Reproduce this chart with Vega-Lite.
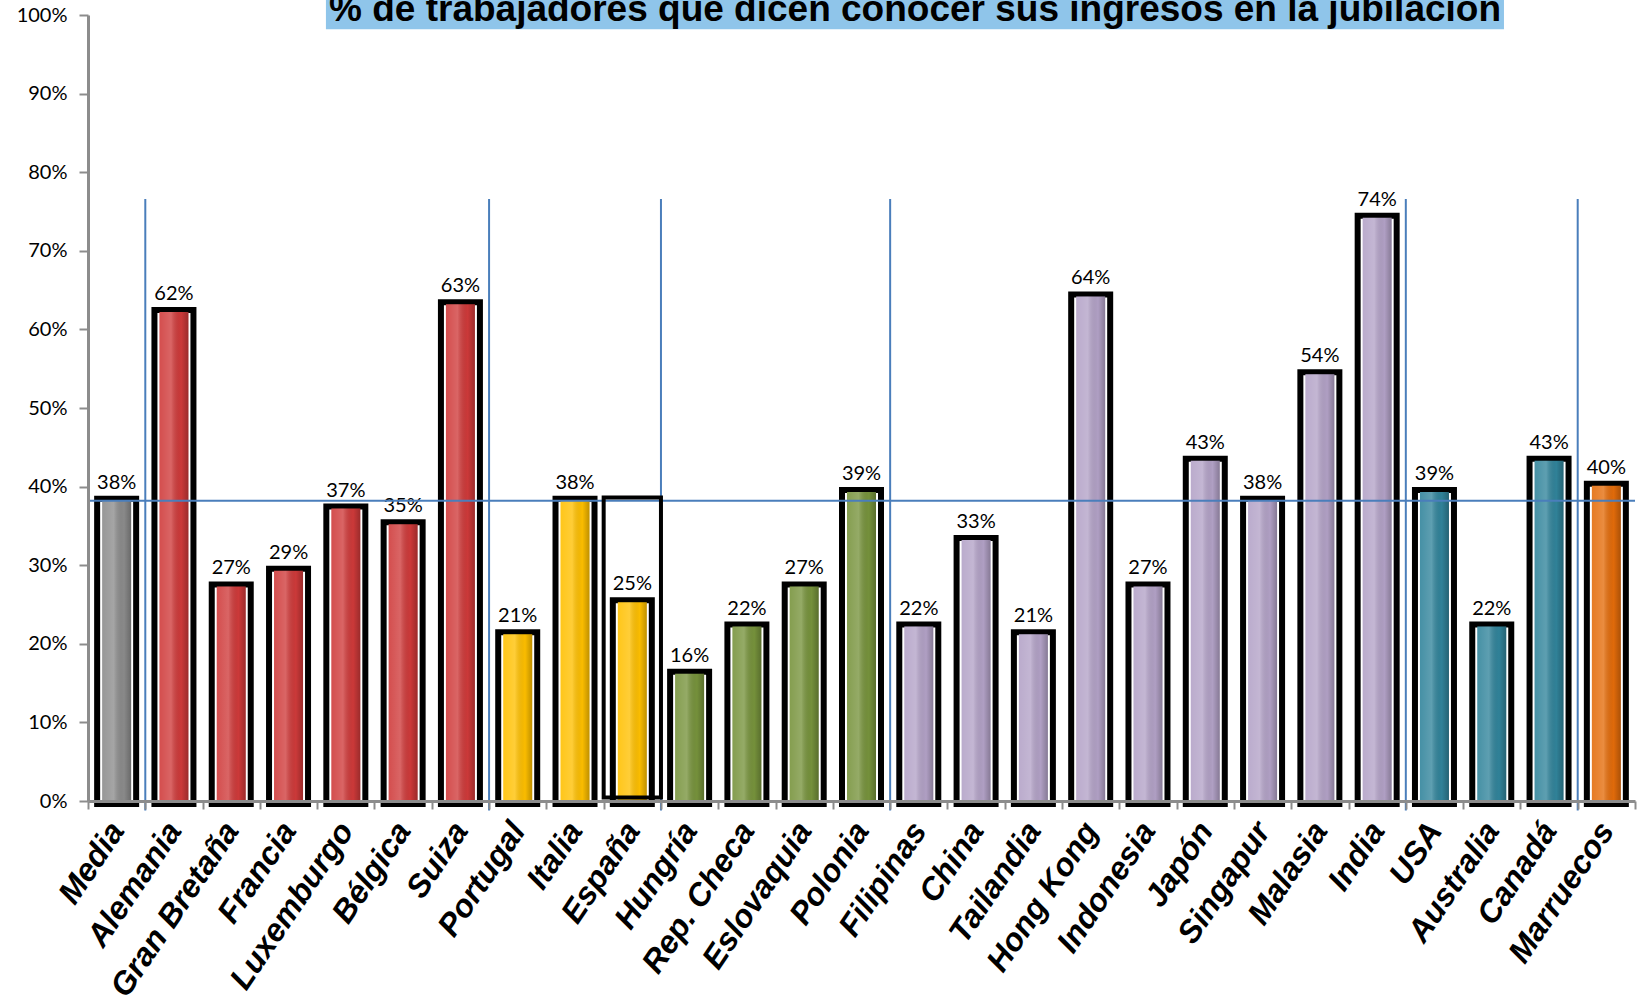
{
  "$schema": "https://vega.github.io/schema/vega-lite/v6.json",
  "width": 1547,
  "height": 786,
  "autosize": {"type": "none"},
  "padding": {"left": 88, "top": 15, "right": 4, "bottom": 194},
  "background": "white",
  "config": {"view": {"stroke": null}, "font": "Lato"},
  "datasets": {
    "paises": [
      {"pais": "Media", "valor": 0.382, "etiqueta": "38%", "grupo": "Media"},
      {"pais": "Alemania", "valor": 0.622, "etiqueta": "62%", "grupo": "Europa Occidental"},
      {"pais": "Gran Bretaña", "valor": 0.273, "etiqueta": "27%", "grupo": "Europa Occidental"},
      {"pais": "Francia", "valor": 0.293, "etiqueta": "29%", "grupo": "Europa Occidental"},
      {"pais": "Luxemburgo", "valor": 0.372, "etiqueta": "37%", "grupo": "Europa Occidental"},
      {"pais": "Bélgica", "valor": 0.352, "etiqueta": "35%", "grupo": "Europa Occidental"},
      {"pais": "Suiza", "valor": 0.632, "etiqueta": "63%", "grupo": "Europa Occidental"},
      {"pais": "Portugal", "valor": 0.212, "etiqueta": "21%", "grupo": "Europa Sur"},
      {"pais": "Italia", "valor": 0.382, "etiqueta": "38%", "grupo": "Europa Sur"},
      {"pais": "España", "valor": 0.253, "etiqueta": "25%", "grupo": "Europa Sur"},
      {"pais": "Hungría", "valor": 0.162, "etiqueta": "16%", "grupo": "Europa Este"},
      {"pais": "Rep. Checa", "valor": 0.222, "etiqueta": "22%", "grupo": "Europa Este"},
      {"pais": "Eslovaquia", "valor": 0.273, "etiqueta": "27%", "grupo": "Europa Este"},
      {"pais": "Polonia", "valor": 0.393, "etiqueta": "39%", "grupo": "Europa Este"},
      {"pais": "Filipinas", "valor": 0.222, "etiqueta": "22%", "grupo": "Asia"},
      {"pais": "China", "valor": 0.332, "etiqueta": "33%", "grupo": "Asia"},
      {"pais": "Tailandia", "valor": 0.212, "etiqueta": "21%", "grupo": "Asia"},
      {"pais": "Hong Kong", "valor": 0.642, "etiqueta": "64%", "grupo": "Asia"},
      {"pais": "Indonesia", "valor": 0.273, "etiqueta": "27%", "grupo": "Asia"},
      {"pais": "Japón", "valor": 0.433, "etiqueta": "43%", "grupo": "Asia"},
      {"pais": "Singapur", "valor": 0.382, "etiqueta": "38%", "grupo": "Asia"},
      {"pais": "Malasia", "valor": 0.543, "etiqueta": "54%", "grupo": "Asia"},
      {"pais": "India", "valor": 0.742, "etiqueta": "74%", "grupo": "Asia"},
      {"pais": "USA", "valor": 0.393, "etiqueta": "39%", "grupo": "América"},
      {"pais": "Australia", "valor": 0.222, "etiqueta": "22%", "grupo": "América"},
      {"pais": "Canadá", "valor": 0.433, "etiqueta": "43%", "grupo": "América"},
      {"pais": "Marruecos", "valor": 0.401, "etiqueta": "40%", "grupo": "África"}
    ],
    "separadores": [
      {"pais": "Alemania"},
      {"pais": "Portugal"},
      {"pais": "Hungría"},
      {"pais": "Filipinas"},
      {"pais": "USA"},
      {"pais": "Marruecos"}
    ]
  },
  "layer": [
    {
      "layer": [
        {
          "data": {"name": "paises"},
          "mark": {"type": "bar", "width": 39, "fill": "white", "stroke": "black", "strokeWidth": 6, "yOffset": -2, "y2Offset": 3},
          "encoding": {
            "x": {
              "field": "pais", "type": "nominal", "sort": null,
              "scale": {
                "domain": ["Media", "Alemania", "Gran Bretaña", "Francia", "Luxemburgo", "Bélgica", "Suiza", "Portugal", "Italia", "España", "Hungría", "Rep. Checa", "Eslovaquia", "Polonia", "Filipinas", "China", "Tailandia", "Hong Kong", "Indonesia", "Japón", "Singapur", "Malasia", "India", "USA", "Australia", "Canadá", "Marruecos"],
                "paddingInner": 0, "paddingOuter": 0
              },
              "axis": {
                "title": null, "domainColor": "#8c8c8c", "domainWidth": 3,
                "tickColor": "#8c8c8c", "tickWidth": 2, "tickSize": 8, "tickBand": "extent",
                "labelAngle": -56, "labelAlign": "right", "labelBaseline": "middle",
                "labelFont": "Liberation Sans", "labelFontSize": 32, "labelFontWeight": "bold",
                "labelFontStyle": "italic", "labelColor": "black", "labelPadding": 16,
                "labelLimit": 0, "labelOverlap": false, "zindex": 1
              }
            },
            "y": {
              "field": "valor", "type": "quantitative",
              "scale": {"domain": [0, 1], "nice": false},
              "axis": {
                "title": null, "format": ".0%", "values": [0, 0.1, 0.2, 0.3, 0.4, 0.5, 0.6, 0.7, 0.8, 0.9, 1],
                "domainColor": "#8c8c8c", "domainWidth": 3, "tickColor": "#8c8c8c", "tickWidth": 2,
                "tickSize": 9, "labelFont": "Lato", "labelFontSize": 20, "labelColor": "black",
                "labelPadding": 12, "grid": false, "zindex": 1
              }
            },
            "y2": {"datum": 0}
          }
        },
        {
          "data": {"name": "paises"},
          "mark": {"type": "bar", "width": 29},
          "encoding": {
            "x": {"field": "pais", "type": "nominal", "sort": null},
            "y": {"field": "valor", "type": "quantitative"},
            "y2": {"datum": 0},
            "color": {
              "field": "grupo", "type": "nominal", "legend": null,
              "scale": {
                "domain": ["Media", "Europa Occidental", "Europa Sur", "Europa Este", "Asia", "América", "África"],
                "range": ["#8c8c8c", "#cf3a3a", "#ffc000", "#77933c", "#b3a2c7", "#31849b", "#e46c0a"]
              }
            }
          }
        },
        {
          "data": {"name": "paises"},
          "mark": {
            "type": "bar", "width": 29,
            "color": {
              "gradient": "linear", "x1": 0, "y1": 0, "x2": 1, "y2": 0,
              "stops": [
                {"offset": 0, "color": "rgba(255,255,255,0.10)"},
                {"offset": 0.4, "color": "rgba(255,255,255,0.22)"},
                {"offset": 0.75, "color": "rgba(0,0,0,0.02)"},
                {"offset": 1, "color": "rgba(0,0,0,0.25)"}
              ]
            }
          },
          "encoding": {
            "x": {"field": "pais", "type": "nominal", "sort": null},
            "y": {"field": "valor", "type": "quantitative"},
            "y2": {"datum": 0}
          }
        },
        {
          "data": {"name": "paises"},
          "mark": {"type": "text", "baseline": "alphabetic", "dy": -12, "fontSize": 20, "font": "Lato", "color": "black"},
          "encoding": {
            "x": {"field": "pais", "type": "nominal", "sort": null},
            "y": {"field": "valor", "type": "quantitative"},
            "text": {"field": "etiqueta"}
          }
        },
        {
          "data": {"name": "separadores"},
          "mark": {"type": "rule", "color": "#4a7ebb", "strokeWidth": 2},
          "encoding": {
            "x": {"field": "pais", "type": "nominal", "bandPosition": 0},
            "y": {"datum": 0.766},
            "y2": {"datum": -0.012}
          }
        },
        {
          "data": {"values": [{}]},
          "mark": {"type": "rule", "color": "#4a7ebb", "strokeWidth": 2},
          "encoding": {"y": {"datum": 0.382}}
        },
        {
          "data": {"values": [{}]},
          "mark": {"type": "bar", "fill": "white", "fillOpacity": 0, "stroke": "black", "strokeWidth": 4},
          "encoding": {
            "x": {"datum": "España"},
            "y": {"datum": 0.386},
            "y2": {"datum": 0.0045}
          }
        }
      ]
    },
    {
      "data": {"values": [{"titulo": "% de trabajadores que dicen conocer sus ingresos en la jubilación"}]},
      "layer": [
        {
          "mark": {"type": "rect", "color": "#8fc5ea"},
          "encoding": {
            "x": {"datum": 0.1538, "type": "quantitative", "scale": {"domain": [0, 1], "nice": false}, "axis": null},
            "x2": {"datum": 0.9153},
            "y": {"datum": 0.982},
            "y2": {"datum": 1.04}
          }
        },
        {
          "mark": {"type": "text", "font": "Liberation Sans", "fontWeight": "bold", "fontSize": 37, "baseline": "alphabetic", "align": "center", "color": "black"},
          "encoding": {
            "x": {"datum": 0.5346, "type": "quantitative"},
            "y": {"datum": 0.993},
            "text": {"field": "titulo"}
          }
        }
      ]
    }
  ],
  "resolve": {"scale": {"x": "independent"}}
}
